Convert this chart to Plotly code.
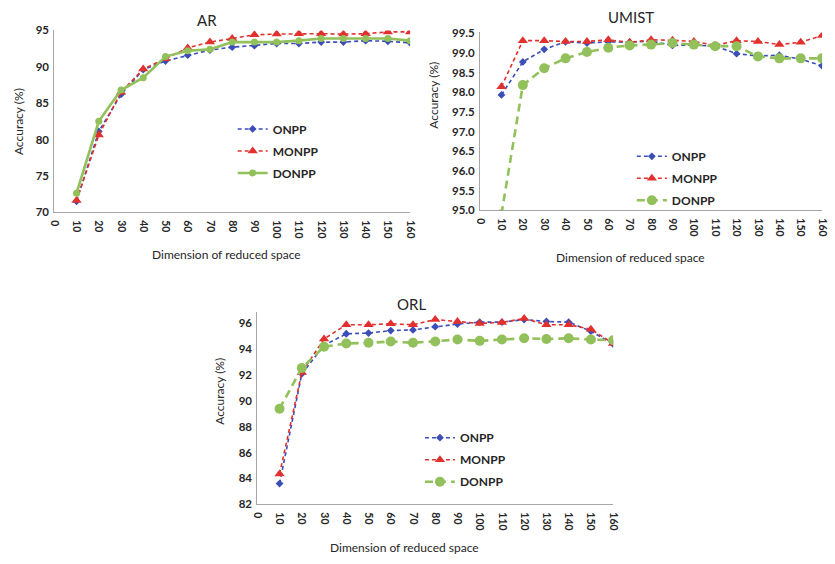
import plotly.graph_objects as go

W, H = 835, 564
dims = [10, 20, 30, 40, 50, 60, 70, 80, 90, 100, 110, 120, 130, 140, 150, 160]
xticks = list(range(0, 161, 10))

ar_onpp = [71.5, 81.1, 86.2, 89.6, 90.8, 91.6, 92.3, 92.7, 92.9, 93.2, 93.2, 93.4, 93.4, 93.6, 93.5, 93.3]
ar_monpp = [71.6, 80.6, 86.5, 89.7, 91.1, 92.6, 93.4, 93.9, 94.4, 94.5, 94.55, 94.55, 94.5, 94.55, 94.8, 94.8]
ar_donpp = [72.6, 82.5, 86.8, 88.5, 91.4, 92.2, 92.4, 93.4, 93.4, 93.4, 93.6, 93.9, 93.9, 93.9, 93.9, 93.6]

um_onpp = [97.93, 98.77, 99.09, 99.28, 99.25, 99.28, 99.27, 99.30, 99.19, 99.20, 99.17, 98.98, 98.92, 98.94, 98.84, 98.67]
um_monpp = [98.14, 99.31, 99.31, 99.29, 99.29, 99.33, 99.27, 99.33, 99.32, 99.29, 99.19, 99.31, 99.29, 99.21, 99.27, 99.44]
um_donpp = [94.9, 98.18, 98.61, 98.86, 99.02, 99.13, 99.19, 99.21, 99.25, 99.21, 99.17, 99.17, 98.91, 98.86, 98.86, 98.86]

orl_onpp = [83.6, 92.1, 94.3, 95.2, 95.25, 95.45, 95.5, 95.75, 95.95, 96.1, 96.1, 96.3, 96.15, 96.1, 95.4, 94.4]
orl_monpp = [84.35, 92.2, 94.8, 95.9, 95.9, 95.97, 95.9, 96.3, 96.15, 96.0, 96.08, 96.38, 95.9, 95.9, 95.55, 94.45]
orl_donpp = [89.4, 92.55, 94.2, 94.45, 94.5, 94.6, 94.5, 94.6, 94.75, 94.65, 94.75, 94.85, 94.8, 94.85, 94.75, 94.7]

BLUE = "#3B4DB7"
RED = "#E2302E"
GREEN = "#92C05A"
FONT = "Lato"
TXT = "#262626"

def px(x, y):
    return x / W, 1 - y / H

fig = go.Figure()

panels = [
    ("AR", (ar_onpp, ar_monpp, ar_donpp), (50, 411), (24, 210), [70, 95], 5, "d", "solid", 7, "legend"),
    ("UMIST", (um_onpp, um_monpp, um_donpp), (482, 829), (26, 208), [95, 99.52], 0.5, ".1f", "8px,5px", 10, "legend2"),
    ("ORL", (orl_onpp, orl_monpp, orl_donpp), (256, 617), (312, 509), [82, 96.9], 2, "d", "8px,5px", 10, "legend3"),
]

layout = {}
for i, (name, data, xd, yd, yr, dt, fmt, gdash, gsize, leg) in enumerate(panels):
    sfx = "" if i == 0 else str(i + 1)
    xa, ya = "x" + sfx, "y" + sfx
    on, mon, don = data
    fig.add_trace(go.Scatter(x=dims, y=on, name="ONPP", xaxis=xa, yaxis=ya, legend=leg,
                             mode="lines+markers", legendgroup="a",
                             line=dict(color=BLUE, width=1.6, dash="4px,3px"),
                             marker=dict(symbol="diamond", size=6, color=BLUE)))
    fig.add_trace(go.Scatter(x=dims, y=mon, name="MONPP", xaxis=xa, yaxis=ya, legend=leg,
                             mode="lines+markers", legendgroup="b",
                             line=dict(color=RED, width=1.6, dash="4px,3px"),
                             marker=dict(symbol="triangle-up", size=9, color=RED)))
    fig.add_trace(go.Scatter(x=dims, y=don, name="DONPP", xaxis=xa, yaxis=ya, legend=leg,
                             mode="lines+markers", legendgroup="c",
                             line=dict(color=GREEN, width=2.6, dash=gdash),
                             marker=dict(symbol="circle", size=gsize, color=GREEN)))
    x0, x1 = xd
    y0, y1 = yd
    layout["xaxis" + sfx] = dict(domain=[x0 / W, x1 / W], range=[0, 160], anchor=ya,
                                 tickvals=xticks, ticktext=[str(t) for t in xticks], tickangle=90,
                                 showline=True, linecolor="#A6A6A6", linewidth=1, showgrid=False,
                                 zeroline=False, ticks="", ticklen=0, ticklabelstandoff=5,
                                 tickfont=dict(family=FONT, size=10.5, color=TXT, weight="bold"))
    layout["yaxis" + sfx] = dict(domain=[1 - y1 / H, 1 - y0 / H], range=yr, anchor=xa,
                                 dtick=dt, tick0=yr[0], tickformat=fmt,
                                 showline=True, linecolor="#A6A6A6", linewidth=1, showgrid=False,
                                 zeroline=False, ticks="", ticklen=0, ticklabelstandoff=2,
                                 tickfont=dict(family=FONT, size=11.5, color=TXT, weight="bold"))

legpos = {"legend": (231, 110), "legend2": (636, 138), "legend3": (421, 426)}
for k, (lx, ly) in legpos.items():
    xx, yy = px(lx, ly)
    layout[k] = dict(x=xx, y=yy, xanchor="left", yanchor="top", bgcolor="rgba(0,0,0,0)",
                     font=dict(family=FONT, size=12, color=TXT, weight="bold"),
                     traceorder="grouped", tracegroupgap=3, itemwidth=30)

ann = []
def add_text(text, x, y, size, angle=0, bold=False):
    xx, yy = px(x, y)
    ann.append(dict(text=text, x=xx, y=yy, xref="paper", yref="paper", showarrow=False,
                    textangle=angle, xanchor="center", yanchor="middle",
                    font=dict(family=FONT, size=size, color=TXT, weight="bold" if bold else "normal")))

add_text("AR", 205, 13, 15)
add_text("UMIST", 635, 10, 15)
add_text("ORL", 412, 304, 15)
add_text("Dimension of reduced space", 225, 253, 12)
add_text("Dimension of reduced space", 635, 256, 12)
add_text("Dimension of reduced space", 405, 553, 12)
add_text("Accuracy (%)", 13, 117, 12, -90)
add_text("Accuracy (%)", 435, 90, 12, -90)
add_text("Accuracy (%)", 218, 393, 12, -90)

fig.update_layout(width=W, height=H, margin=dict(l=0, r=0, t=0, b=0),
                  paper_bgcolor="white", plot_bgcolor="white", showlegend=True,
                  annotations=ann, **layout)
fig.write_html("out.html")
